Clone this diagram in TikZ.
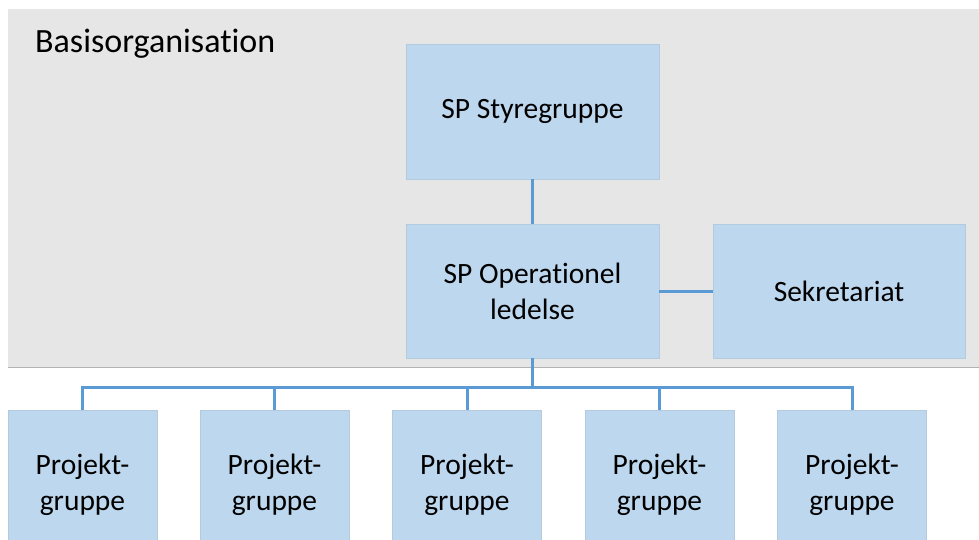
\documentclass[tikz,border=0pt]{standalone}
\usepackage{fontspec}
\setmainfont[Ligatures=NoCommon]{Carlito}
\definecolor{boxblue}{RGB}{189,215,238}
\definecolor{lineblue}{RGB}{91,155,213}
\definecolor{basisgray}{RGB}{230,230,230}
\tikzset{
  orgbox/.style={fill=boxblue,draw=boxblue!85!gray,line width=0.6pt,align=center,
    font=\fontsize{29.5}{36}\selectfont},
  orgline/.style={draw=lineblue,line width=3pt}
}
\begin{document}
\begin{tikzpicture}[x=1pt,y=-1pt]
\clip (0,0) rectangle (979,539);
\fill[white] (0,0) rectangle (979,539);
\fill[basisgray] (8,9) rectangle (979,367);
\draw[gray!60,line width=1pt] (8,367) -- (979,367);
\node[anchor=base west,font=\fontsize{34}{40}\selectfont,inner sep=0pt] (basis) at (35,52) {Basisorganisation};
\node[orgbox,minimum width=253pt,minimum height=135pt] (styre) at (532.5,111.5) {SP Styregruppe};
\node[orgbox,minimum width=253pt,minimum height=134pt] (ledelse) at (532.5,291) {SP Operationel\\ledelse};
\node[orgbox,minimum width=252pt,minimum height=134pt] (sekr) at (839,291) {Sekretariat};
\foreach \n/\x in {1/82.5,2/274.5,3/467,4/659.5,5/852}
\node[orgbox,minimum width=149pt,minimum height=150pt] (pg\n) at (\x,485) {Projekt-\\gruppe};
\coordinate (bus) at (532.5,387);
\draw[orgline] (styre) -- (ledelse);
\draw[orgline] (ledelse) -- (sekr);
\draw[orgline] (ledelse.south) -- (bus);
\foreach \n in {1,2,3,4,5}
\draw[orgline] (pg\n.north) |- (bus);
\end{tikzpicture}
\end{document}
